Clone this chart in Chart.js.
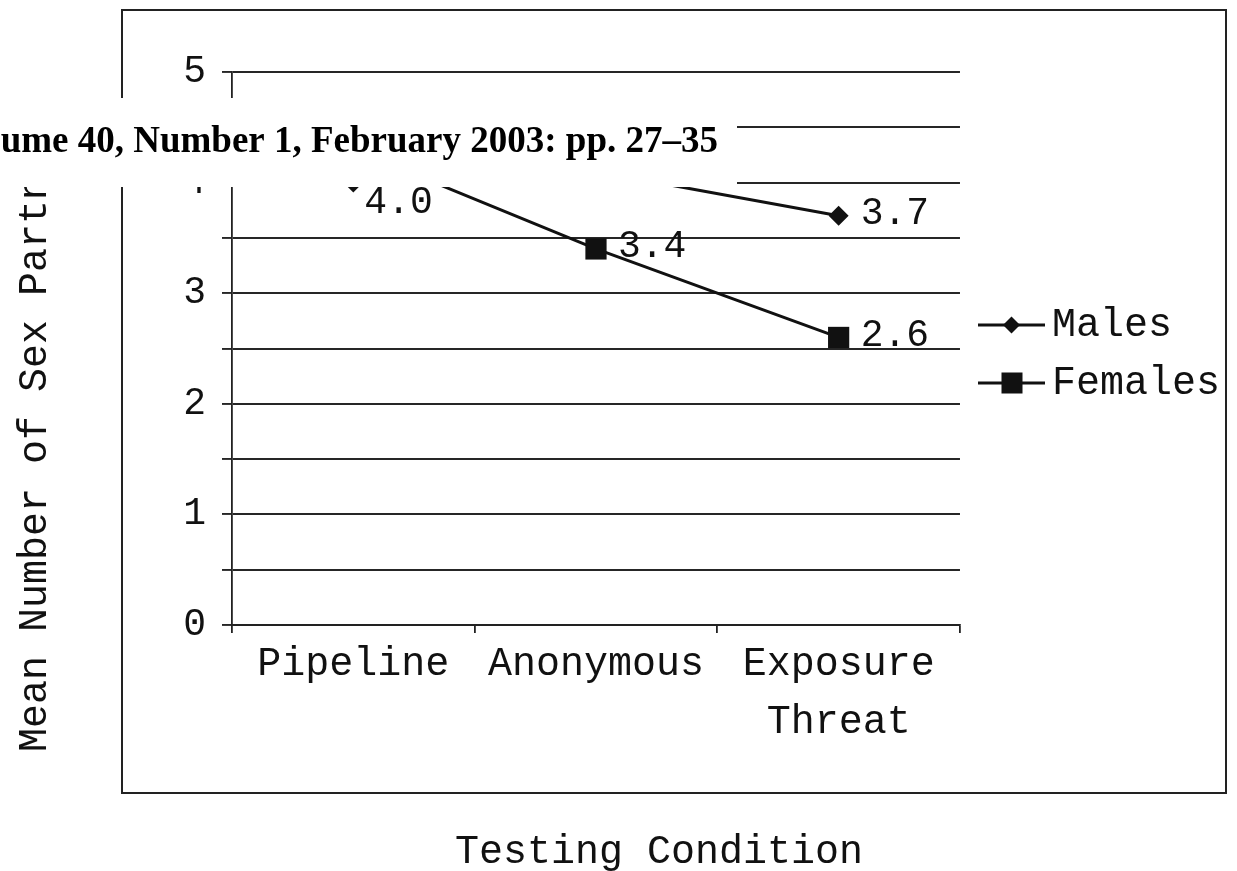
<!DOCTYPE html>
<html><head><meta charset="utf-8">
<script src="https://cdn.jsdelivr.net/npm/chart.js@4.4.1/dist/chart.umd.min.js"></script>
<style>html,body{margin:0;padding:0;background:#fff;} canvas{display:block;}</style>
</head><body>
<canvas id="c" width="1237" height="871"></canvas>
<script>
// ---- data ----
const categories = ['Pipeline', 'Anonymous', ['Exposure', 'Threat']];
const seriesNames = ['Males', 'Females'];
const malesValues = [4.0, 4.1, 3.7];
const femalesValues = [4.3, 3.4, 2.6];
const yMin = 0;
const yMax = 5;
const yGridStep = 0.5;
const yAxisTitle = 'Mean Number of Sex Partners';
const xAxisTitle = 'Testing Condition';
const overlayText = 'ume 40, Number 1, February 2003: pp. 27\u201335';

const INK = '#111';
Chart.defaults.font.family = '"Liberation Mono", "DejaVu Sans Mono", monospace';
Chart.defaults.color = INK;

function legendIcon(kind) {
  const c = document.createElement('canvas');
  c.width = 80; c.height = 26;
  const g = c.getContext('2d');
  g.strokeStyle = INK; g.lineWidth = 3;
  g.beginPath(); g.moveTo(13, 13); g.lineTo(80, 13); g.stroke();
  g.fillStyle = INK;
  if (kind === 'diamond') {
    g.beginPath(); g.moveTo(46.5, 4.5); g.lineTo(55, 13); g.lineTo(46.5, 21.5); g.lineTo(38, 13); g.closePath(); g.fill();
  } else {
    g.fillRect(36.5, 2.5, 21, 21);
  }
  return c;
}
const legendIcons = [legendIcon('diamond'), legendIcon('square')];

const decorations = {
  id: 'decorations',
  afterDraw(chart, args, opts) {
    const ctx = chart.ctx;
    ctx.save();
    // outer frame
    ctx.strokeStyle = '#222'; ctx.lineWidth = 2;
    ctx.strokeRect(122, 10, 1104, 783);
    // axis titles
    ctx.fillStyle = INK;
    ctx.font = '40px "Liberation Mono"';
    ctx.textAlign = 'center'; ctx.textBaseline = 'middle';
    ctx.save();
    ctx.translate(35, 428); ctx.rotate(-Math.PI / 2);
    ctx.fillText(yAxisTitle, 0, 0);
    ctx.restore();
    ctx.fillText(xAxisTitle, 659, 852);
    // data labels
    ctx.font = '38px "Liberation Mono"';
    ctx.textAlign = 'left';
    chart.data.datasets.forEach((ds, di) => {
      const meta = chart.getDatasetMeta(di);
      meta.data.forEach((pt, i) => {
        const s = (opts.shift && opts.shift[di + ':' + i]) || [0, 0];
        ctx.fillText(Number(ds.data[i]).toFixed(1), pt.x + 22 + s[0], pt.y - 2 + s[1]);
      });
    });
    // pasted header strip from the scan
    ctx.fillStyle = '#fff';
    ctx.fillRect(0, 98, 737, 89);
    ctx.fillStyle = '#000';
    ctx.font = 'bold 37px "Liberation Serif"';
    ctx.textAlign = 'right'; ctx.textBaseline = 'alphabetic';
    ctx.fillText(overlayText, 718, 152);
    ctx.restore();
  }
};

new Chart(document.getElementById('c'), {
  type: 'line',
  data: {
    labels: categories,
    datasets: [
      { label: seriesNames[0], data: malesValues, borderColor: INK, backgroundColor: INK,
        borderWidth: 3, pointStyle: 'rectRot', pointRadius: 10, pointBorderWidth: 0, tension: 0 },
      { label: seriesNames[1], data: femalesValues, borderColor: INK, backgroundColor: INK,
        borderWidth: 3, pointStyle: 'rect', pointRadius: 15, pointBorderWidth: 0, tension: 0 }
    ]
  },
  options: {
    responsive: false, animation: false, devicePixelRatio: 1,
    layout: { padding: { left: 0, top: 72, right: 7, bottom: 0 } },
    plugins: {
      tooltip: { enabled: false },
      decorations: { shift: { '0:0': [-11, 22] } },
      legend: {
        position: 'right', align: 'center', fullSize: false,
        title: { display: true, text: ' ', font: { size: 10, lineHeight: 1.1 }, padding: 0 },
        labels: {
          usePointStyle: true, pointStyleWidth: 54, padding: 18,
          font: { size: 40 }, color: INK,
          generateLabels(chart) {
            const items = Chart.defaults.plugins.legend.labels.generateLabels(chart);
            items.forEach((it, i) => { it.pointStyle = legendIcons[i]; });
            return items;
          }
        }
      }
    },
    scales: {
      x: {
        offset: true,
        grid: { display: true, drawOnChartArea: false, drawTicks: true, tickLength: 8, offset: true, color: '#222', lineWidth: 1.8 },
        border: { display: true, color: '#222', width: 1.8 },
        ticks: { padding: 2, font: { size: 40, lineHeight: 1.45 }, color: INK, maxRotation: 0, autoSkip: false },
        afterFit(scale) { scale.height = 246; }
      },
      y: {
        min: yMin, max: yMax,
        grid: { color: '#262626', lineWidth: 1.9, tickLength: 10 },
        border: { display: true, color: '#222', width: 1.8 },
        ticks: {
          stepSize: yGridStep, autoSkip: false, padding: 16, font: { size: 38 }, color: INK,
          callback: v => Number.isInteger(v) ? String(v) : ''
        },
        afterFit(scale) { scale.width = 232; }
      }
    }
  },
  plugins: [decorations]
});
</script>
</body></html>
